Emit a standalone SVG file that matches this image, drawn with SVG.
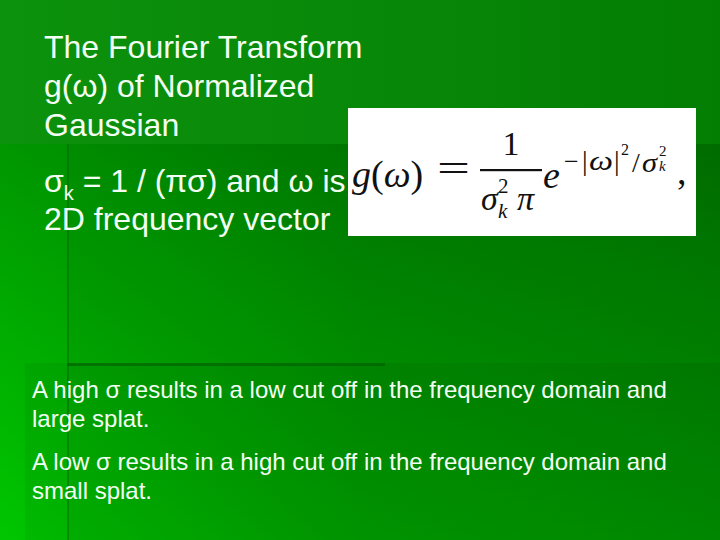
<svg xmlns="http://www.w3.org/2000/svg" width="720" height="540" viewBox="0 0 720 540">
<defs>
<linearGradient id="low" x1="0" y1="0" x2="1" y2="0">
<stop offset="0" stop-color="#00c600"/>
<stop offset="0.5" stop-color="#00a200"/>
<stop offset="1" stop-color="#009400"/>
</linearGradient>
<linearGradient id="shade" x1="0" y1="0" x2="0" y2="1">
<stop offset="0" stop-color="#000" stop-opacity="0.24"/>
<stop offset="1" stop-color="#000" stop-opacity="0"/>
</linearGradient>
<linearGradient id="top" x1="0" y1="0" x2="1" y2="0">
<stop offset="0" stop-color="#0d920d"/>
<stop offset="1" stop-color="#037e03"/>
</linearGradient>
<style>
.t{font-family:"Liberation Sans",Arial,sans-serif;fill:#f4fff4}
.h{font-size:32px}
.b{font-size:24px}
.m{font-family:"Liberation Serif","Times New Roman",serif;fill:#111}
.i{font-style:italic}
</style>
</defs>
<g id="background">
<rect y="144" width="720" height="396" fill="url(#low)"/>
<rect y="144" width="720" height="396" fill="url(#shade)"/>
<rect width="720" height="144" fill="url(#top)"/>
<rect x="67" y="144" width="653" height="396" fill="#000" opacity="0.04"/>
<rect x="25" y="363" width="695" height="177" fill="#000" opacity="0.05"/>
<line x1="68" y1="144" x2="68" y2="540" stroke="#006400" stroke-width="2" opacity="0.45"/>
<line x1="67" y1="364.5" x2="385" y2="364.5" stroke="#006400" stroke-width="3" opacity="0.7"/>
</g>
<g id="title">
<text class="t h" x="44" y="58">The Fourier Transform</text>
<text class="t h" x="44" y="97">g(ω) of Normalized</text>
<text class="t h" x="44" y="136">Gaussian</text>
<text class="t h" x="44" y="192">σ<tspan font-size="20" dy="8">k</tspan><tspan dy="-8"> = 1 / (πσ) and ω is</tspan></text>
<text class="t h" x="44" y="230">2D frequency vector</text>
</g>
<g id="formula">
<rect x="348" y="108" width="348" height="128" fill="#ffffff"/>
<text class="m" x="352" y="187" font-size="38"><tspan class="i">g</tspan>(<tspan class="i">ω</tspan>)</text>
<text class="m" x="437" y="181" font-size="38" textLength="33" lengthAdjust="spacingAndGlyphs">=</text>
<rect x="480" y="169" width="62" height="2.2" fill="#111"/>
<text class="m" x="511" y="155" font-size="34" text-anchor="middle">1</text>
<text class="m i" x="481" y="210" font-size="34">σ</text>
<text class="m" x="498" y="193" font-size="21">2</text>
<text class="m i" x="498" y="218" font-size="21">k</text>
<text class="m i" x="517" y="210" font-size="34">π</text>
<text class="m i" x="543" y="188" font-size="38">e</text>
<text class="m" x="564" y="170" font-size="26">−</text>
<text class="m" x="582" y="170" font-size="28">|</text>
<text class="m i" x="589" y="170" font-size="28" textLength="24" lengthAdjust="spacingAndGlyphs">ω</text>
<text class="m" x="614" y="170" font-size="28">|</text>
<text class="m" x="621" y="155" font-size="16">2</text>
<text class="m" x="632" y="172" font-size="28">/</text>
<text class="m i" x="642" y="172" font-size="28" textLength="15" lengthAdjust="spacingAndGlyphs">σ</text>
<text class="m" x="659" y="156" font-size="15">2</text>
<text class="m i" x="659" y="171" font-size="15">k</text>
<text class="m" x="677" y="184" font-size="38">,</text>
</g>
<g id="notes">
<text class="t b" x="32" y="398">A high σ results in a low cut off in the frequency domain and</text>
<text class="t b" x="32" y="427">large splat.</text>
<text class="t b" x="32" y="470">A low σ results in a high cut off in the frequency domain and</text>
<text class="t b" x="32" y="499">small splat.</text>
</g>
</svg>
